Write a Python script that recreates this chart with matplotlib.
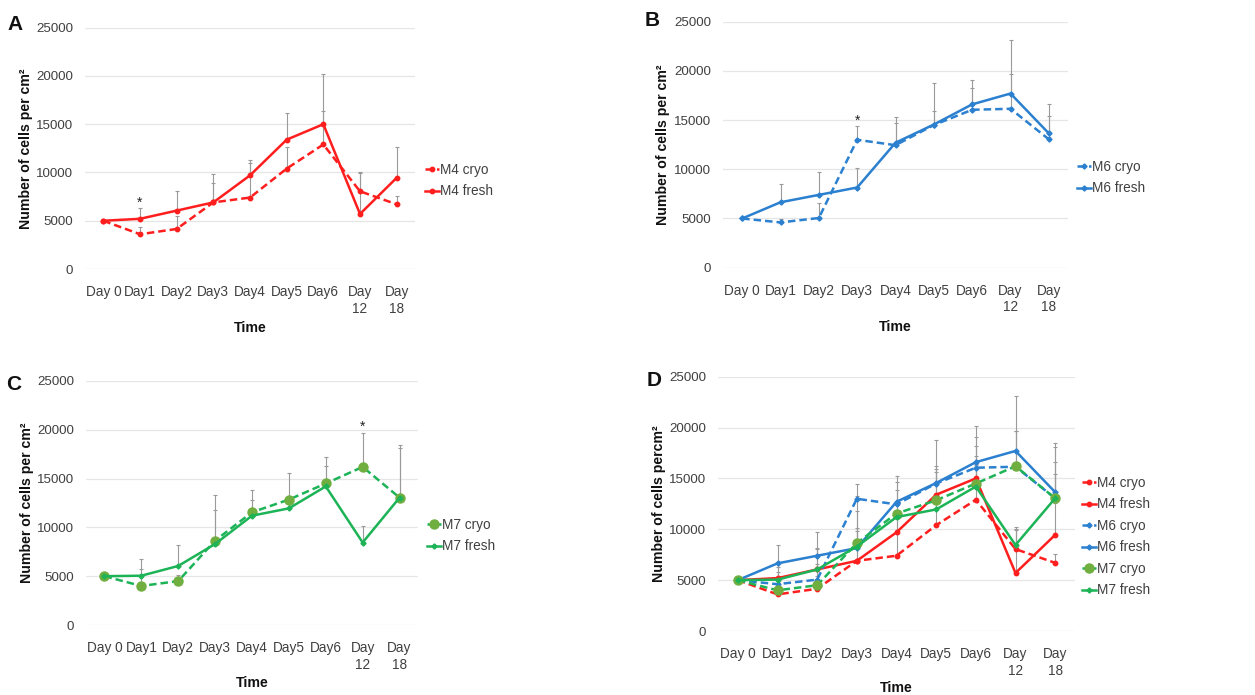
import matplotlib
matplotlib.use("Agg")
import matplotlib.pyplot as plt
import numpy as np

plt.rcParams['font.family'] = ['Liberation Sans', 'DejaVu Sans']

days = ["Day 0", "Day1", "Day2", "Day3", "Day4", "Day5", "Day6", "Day\n12", "Day\n18"]

m4_cryo = [5000, 3600, 4150, 6900, 7400, 10400, 12900, 8050, 6700]
m4_fresh = [5000, 5200, 6050, 6900, 9700, 13400, 15000, 5700, 9450]
m4_cryo_err = [0, 700, 1300, 2000, 3600, 2200, 3500, 1900, 900]
m4_fresh_err = [0, 1100, 2050, 2900, 1600, 2800, 5200, 4300, 3150]

m6_cryo = [5000, 4600, 5050, 13000, 12450, 14500, 16050, 16150, 13050]
m6_fresh = [5000, 6650, 7400, 8150, 12700, 14550, 16600, 17700, 13650]
m6_cryo_err = [0, 300, 1500, 1450, 2830, 1400, 2170, 3530, 2360]
m6_fresh_err = [0, 1850, 2350, 1950, 1970, 4200, 2470, 5440, 2950]

m7_cryo = [5000, 4000, 4500, 8650, 11550, 12850, 14500, 16200, 13050]
m7_fresh = [5000, 5050, 6050, 8300, 11200, 11950, 14200, 8450, 13050]
m7_cryo_err = [0, 1770, 600, 4650, 2280, 2750, 2750, 3500, 5400]
m7_fresh_err = [0, 1700, 2150, 3480, 1600, 600, 2090, 1730, 5050]

RED = '#FF1E1E'
BLUE = '#2B80CF'
GREEN = '#1DB357'
OLIVE = '#6FAE3F'
ERR = '#9A9A9A'
TXT = '#404040'

series = {
    'M4 cryo': dict(y=m4_cryo, e=m4_cryo_err, c=RED, ls=(0, (3, 1.6)), m='o', ms=3.2, mc=RED),
    'M4 fresh': dict(y=m4_fresh, e=m4_fresh_err, c=RED, ls='-', m='o', ms=3.2, mc=RED),
    'M6 cryo': dict(y=m6_cryo, e=m6_cryo_err, c=BLUE, ls=(0, (3, 1.6)), m='D', ms=2.6, mc=BLUE),
    'M6 fresh': dict(y=m6_fresh, e=m6_fresh_err, c=BLUE, ls='-', m='D', ms=2.6, mc=BLUE),
    'M7 cryo': dict(y=m7_cryo, e=m7_cryo_err, c=GREEN, ls=(0, (3, 1.6)), m='o', ms=6.5, mc=OLIVE),
    'M7 fresh': dict(y=m7_fresh, e=m7_fresh_err, c=GREEN, ls='-', m='D', ms=2.6, mc=GREEN),
}

W, H = 1255, 695
fig = plt.figure(figsize=(W / 100, H / 100), dpi=100)


def make_ax(x0, x1, y0px, y25px):
    return fig.add_axes([x0 / W, 1 - y0px / H, (x1 - x0) / W, (y0px - y25px) / H])


def style(ax, x0, x1, y0px, y25px, ylabel, legx, legy, ylab_off=52, time_off=52):
    ax.set_xlim(-0.5, len(days) - 0.5)
    ax.set_ylim(0, 25000)
    ax.set_yticks(np.arange(0, 25001, 5000))
    ax.set_xticks(range(len(days)))
    ax.set_xticklabels(days, fontsize=9.8, color=TXT, linespacing=1.25)
    ax.tick_params(axis='y', labelsize=9.6, labelcolor=TXT, length=0, pad=8.5)
    ax.tick_params(axis='x', length=0, pad=11.5)
    for s in ax.spines.values():
        s.set_visible(False)
    ax.grid(axis='y', color='#E6E6E6', linewidth=0.9)
    ax.set_axisbelow(True)
    wpx = x1 - x0
    hpx = y0px - y25px
    ax.set_ylabel(ylabel, fontsize=10.2, fontweight='bold', color='#111111')
    ax.yaxis.set_label_coords(-ylab_off / wpx, 0.5)
    ax.set_xlabel('Time', fontsize=10.2, fontweight='bold', color='#111111')
    ax.xaxis.set_label_coords(0.5, -time_off / hpx)
    ax.legend(loc='upper left', bbox_to_anchor=(legx / W, 1 - legy / H),
              bbox_transform=fig.transFigure, frameon=False, fontsize=9.8,
              labelcolor=TXT, handlelength=1.05, handletextpad=0.08,
              labelspacing=0.55, borderaxespad=0, borderpad=0)


def draw(ax, names):
    x = np.arange(len(days))
    for n in names:
        s = series[n]
        y = np.array(s['y'])
        e = np.array(s['e'])
        ax.errorbar(x, y, yerr=[np.zeros_like(e), e], fmt='none', ecolor=ERR,
                    elinewidth=0.8, capsize=1.3, capthick=0.8, zorder=2)
    for n in names:
        s = series[n]
        ax.plot(x, s['y'], color=s['c'], linestyle=s['ls'], linewidth=1.8,
                marker=s['m'], markersize=s['ms'], markerfacecolor=s['mc'],
                markeredgecolor=s['mc'], label=n, zorder=3)


def star(ax, xi, yv):
    ax.text(xi, yv, '*', ha='center', va='center', fontsize=10, color='#222222')


# Panel A
pa = (85, 415, 269, 27.7)
axA = make_ax(*pa)
draw(axA, ['M4 cryo', 'M4 fresh'])
star(axA, 1, 6900)
style(axA, *pa, 'Number of cells per cm²', 425, 163)

# Panel B
pb = (723, 1068, 267.7, 21.7)
axB = make_ax(*pb)
draw(axB, ['M6 cryo', 'M6 fresh'])
star(axB, 3, 14900)
style(axB, *pb, 'Number of cells per cm²', 1077, 160, ylab_off=53)

# Panel C
pc = (86, 418, 625, 381)
axC = make_ax(*pc)
draw(axC, ['M7 cryo', 'M7 fresh'])
star(axC, 7, 20300)
style(axC, *pc, 'Number of cells per cm²', 427, 518, time_off=51)

# Panel D
pd_ = (718, 1075, 631, 376.7)
axD = make_ax(*pd_)
draw(axD, ['M4 cryo', 'M4 fresh', 'M6 cryo', 'M6 fresh', 'M7 cryo', 'M7 fresh'])
style(axD, *pd_, 'Number of cells percm²', 1082, 476, time_off=50)

for lab, (px, py) in {'A': (15, 24), 'B': (652, 21), 'C': (14, 384), 'D': (654, 380)}.items():
    fig.text(px / W, 1 - py / H, lab, fontsize=15, fontweight='bold',
             ha='center', va='center', color='#111111')

fig.savefig('out.png', dpi=100)
